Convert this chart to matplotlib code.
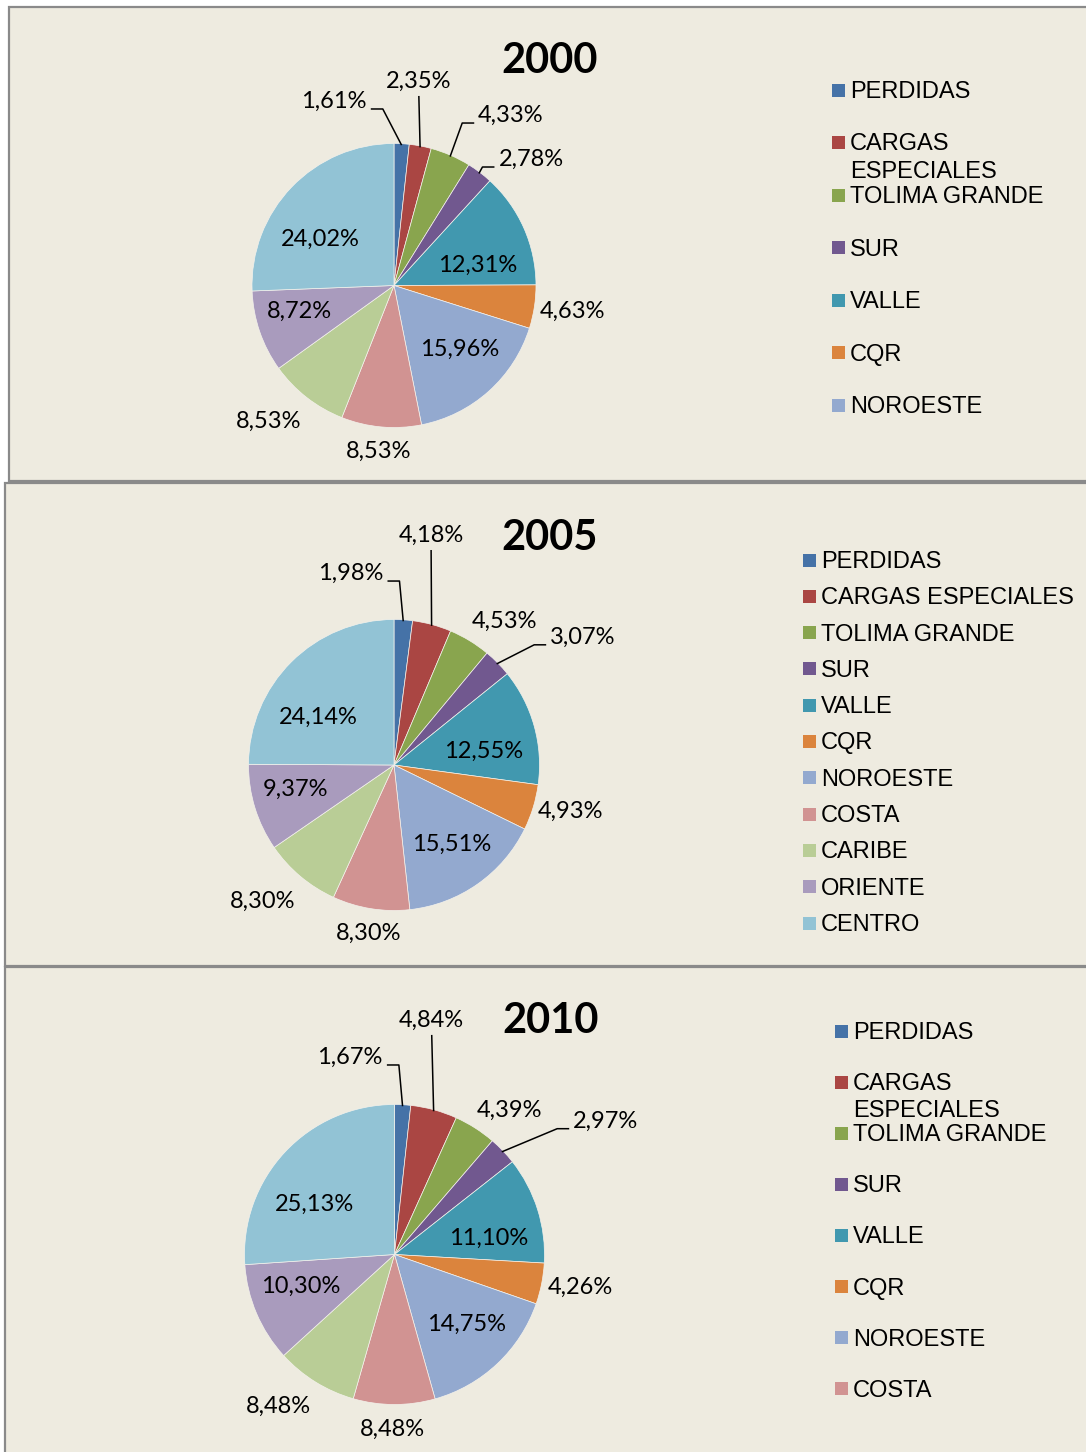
import numpy as np
import matplotlib
matplotlib.use('Agg')
import matplotlib.pyplot as plt
from matplotlib.patches import Rectangle

#------------------------------------------------------------------------------
# DATA
#------------------------------------------------------------------------------

years = ['2000', '2005', '2010']
categories = ['PERDIDAS', 'CARGAS ESPECIALES', 'TOLIMA GRANDE', 'SUR', 'VALLE', 'CQR',
              'NOROESTE', 'COSTA', 'CARIBE', 'ORIENTE', 'CENTRO']
share_2000 = [1.61, 2.35, 4.33, 2.78, 12.31, 4.63, 15.96, 8.53, 8.53, 8.72, 24.02]
share_2005 = [1.98, 4.18, 4.53, 3.07, 12.55, 4.93, 15.51, 8.30, 8.30, 9.37, 24.14]
share_2010 = [1.67, 4.84, 4.39, 2.97, 11.10, 4.26, 14.75, 8.48, 8.48, 10.30, 25.13]
shares = [share_2000, share_2005, share_2010]

# how many legend entries fit in each box (legend is clipped like in Excel)
legend_shown = [7, 11, 8]

#------------------------------------------------------------------------------
# STYLE / LAYOUT (pixels, y from top)
#------------------------------------------------------------------------------

W, H = 1086, 1452
bg = '#EEEBE0'
edge = '#8a8a8a'
colors = ['#4572A7', '#AA4643', '#89A54E', '#71588F', '#4198AF', '#DB843D',
          '#93A9CF', '#D19392', '#B9CD96', '#A99BBD', '#92C3D5']

boxes = [(9, 7, 1092, 481), (5, 483, 1092, 966), (5, 967, 1092, 1460)]
centers = [(394, 285.5), (394, 765), (394.5, 1254.5)]
radii = [142, 145.5, 150]
title_pos = [(550, 61), (550, 538), (551, 1021)]

# legend: marker x, text x, first row y, row step, wrap long names?
leg_cfg = [(832, 850, 90, 52.5, True),
           (803, 821, 560, 36.3, False),
           (835, 853, 1031, 51.1, True)]
wrap_step = 27
leg_text_dy = 2

# label placement: angle shift from wedge middle (deg), radius factor, leader kind
lab_da = [[21.0, 3.8, -10.8, -9.9, -9.5, 0.8, 4.8, 0.0, -5.0, -4.5, 11.2],
          [16.3, 6.0, -6.1, -10.2, -6.0, 2.7, 1.5, 0.7, -4.1, -4.0, 12.4],
          [15.7, 6.3, -5.9, -11.2, -7.0, 1.6, 3.3, -0.7, -5.9, -5.0, 10.2]]
lab_rf = [[1.373, 1.458, 1.462, 1.318, 0.61, 1.272, 0.64, 1.163, 1.293, 0.69, 0.62],
          [1.359, 1.608, 1.255, 1.573, 0.627, 1.255, 0.668, 1.161, 1.293, 0.698, 0.621],
          [1.356, 1.59, 1.239, 1.671, 0.641, 1.255, 0.665, 1.157, 1.269, 0.656, 0.631]]
lab_lead = [['r', 'v', 'l', 'l'] + [None] * 7,
            ['r', 'v', None, 'l'] + [None] * 7,
            ['r', 'v', None, 'l'] + [None] * 7]
lab_dy = 1.5   # px, nudge labels down

def fx(x):
    return x / W

def fy(y):
    return 1 - y / H

#------------------------------------------------------------------------------
# PLOT
#------------------------------------------------------------------------------

fig = plt.figure(figsize=(W / 100, H / 100), dpi=100)
fig.patch.set_facecolor('white')

leaders = []
for k in range(3):
    x0, y0, x1, y1 = boxes[k]
    fig.patches.append(Rectangle((fx(x0), fy(y1)), (x1 - x0) / W, (y1 - y0) / H,
                                 transform=fig.transFigure, facecolor=bg,
                                 edgecolor=edge, lw=1.6, zorder=-5))

    cx, cy = centers[k]
    r = radii[k]
    half = 260
    ax = fig.add_axes([fx(cx - half), fy(cy + half), 2 * half / W, 2 * half / H])
    ax.set_zorder(2)
    wedges, _ = ax.pie(shares[k], colors=colors, startangle=90, counterclock=False,
                       radius=1, wedgeprops=dict(edgecolor='#f4f2ec', linewidth=0.5))
    L = half / r
    ax.set_xlim(-L, L)
    ax.set_ylim(-L, L)
    ax.set_aspect('equal')
    ax.axis('off')
    ax.patch.set_alpha(0)

    for i, w in enumerate(wedges):
        mid = np.deg2rad((w.theta1 + w.theta2) / 2)
        ang = mid + np.deg2rad(lab_da[k][i])
        rf = lab_rf[k][i]
        txt = '{:.2f}%'.format(shares[k][i]).replace('.', ',')
        t = ax.text(rf * np.cos(ang), rf * np.sin(ang) - lab_dy / r, txt,
                    ha='center', va='center', fontsize=17, family='Lato',
                    color='black', clip_on=False)
        if lab_lead[k][i] is not None:
            anchor = (0.99 * np.cos(mid), 0.99 * np.sin(mid))
            leaders.append((ax, t, anchor, lab_lead[k][i], r))

    tx, ty = title_pos[k]
    fig.text(fx(tx), fy(ty), years[k], ha='center', va='center', fontsize=30,
             family='Lato', fontweight='bold', color='black')

    # legend
    mx, lx, ly, step, wrap = leg_cfg[k]
    for i in range(legend_shown[k]):
        yy = ly + i * step
        fig.patches.append(Rectangle((fx(mx), fy(yy + 6.5)), 13 / W, 13 / H,
                                     transform=fig.transFigure, facecolor=colors[i],
                                     edgecolor='none'))
        name = categories[i]
        lines = name.split(' ') if (wrap and name == 'CARGAS ESPECIALES') else [name]
        for j, line in enumerate(lines):
            fig.text(fx(lx), fy(yy + j * wrap_step + leg_text_dy), line, ha='left',
                     va='center', fontsize=17, family='Liberation Sans', color='black')

# leader lines need the text extents
fig.canvas.draw()
for ax, t, (axx, ayy), kind, r in leaders:
    bb = t.get_window_extent().transformed(ax.transData.inverted())
    g = 1.0 / r
    if kind == 'v':
        xs = [(bb.x0 + bb.x1) / 2, axx]
        ys = [bb.y0 - 4 * g, ayy]
    elif kind == 'r':
        yl = bb.y0 + 3 * g
        xs = [bb.x1 + 4 * g, bb.x1 + 16 * g, axx]
        ys = [yl, yl, ayy]
    else:
        yl = bb.y0 + 3 * g
        xs = [bb.x0 - 4 * g, bb.x0 - 16 * g, axx]
        ys = [yl, yl, ayy]
    ax.plot(xs, ys, color='black', lw=1.1, clip_on=False, solid_capstyle='butt')

fig.savefig('out.png', dpi=100, facecolor='white')
plt.close(fig)
